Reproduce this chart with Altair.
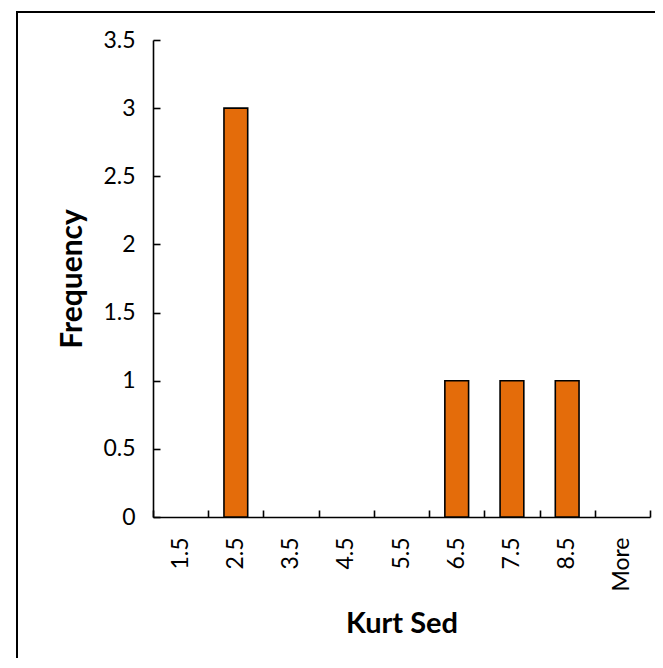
import altair as alt
import pandas as pd

bins = ["1.5", "2.5", "3.5", "4.5", "5.5", "6.5", "7.5", "8.5", "More"]
frequency = [0, 3, 0, 0, 0, 1, 1, 1, 0]
y_ticks = [0, 0.5, 1, 1.5, 2, 2.5, 3, 3.5]

df = pd.DataFrame({"bin": bins, "freq": frequency})

FONT = "Lato"
W, H = 497, 477
PAD_R, PAD_B = 5, 143

x_scale = alt.Scale(domain=bins, paddingInner=0, paddingOuter=0)
y_scale = alt.Scale(domain=[0, 3.5], nice=False)

bars = alt.Chart(df).mark_bar(
    width=alt.RelativeBandSize(0.43),
    color="#E46C0A",
    stroke="#000000",
    strokeWidth=1.6,
).encode(
    x=alt.X("bin:N", sort=bins, scale=x_scale,
            axis=alt.Axis(orient="bottom", title="Kurt Sed", ticks=False, labelAngle=270,
                          labelPadding=20, labelFontSize=23, labelFont=FONT, labelColor="#000000",
                          domainColor="#000000", domainWidth=1.6,
                          titleFont=FONT, titleFontSize=29, titleFontWeight="bold",
                          titleColor="#000000", titleBaseline="alphabetic",
                          titleX=W / 2, titleY=115)),
    y=alt.Y("freq:Q", scale=y_scale,
            axis=alt.Axis(orient="left", title="Frequency", values=y_ticks, format="~g",
                          ticks=False, grid=False, labelPadding=18, labelFontSize=23,
                          labelFont=FONT, labelColor="#000000",
                          domainColor="#000000", domainWidth=1.6,
                          titleFont=FONT, titleFontSize=30, titleFontWeight="bold",
                          titleColor="#000000", titleAngle=270, titleBaseline="alphabetic",
                          titleX=-72, titleY=H / 2)),
).transform_filter(alt.datum.freq > 0)

tick_layer = alt.Chart(df).mark_bar(opacity=0).encode(
    x=alt.X("bin:N", sort=bins, scale=x_scale,
            axis=alt.Axis(orient="bottom", title=None, labels=False, domain=False,
                          ticks=True, tickBand="extent", tickSize=7, offset=-7,
                          tickColor="#000000", tickWidth=1.6)),
    y=alt.Y("freq:Q", scale=y_scale,
            axis=alt.Axis(orient="left", title=None, labels=False, domain=False, grid=False,
                          values=y_ticks, ticks=True, tickSize=7, offset=-7,
                          tickColor="#000000", tickWidth=1.6)),
)

frame_top = alt.Chart(df).mark_rule(stroke="#000000", strokeWidth=1.8).encode(
    x=alt.value(-136), x2=alt.value(W + PAD_R), y=alt.value(-28), y2=alt.value(-28)
).transform_filter(alt.datum.bin == "1.5")

frame_left = alt.Chart(df).mark_rect(fill="#000000", strokeWidth=0).encode(
    x=alt.value(-137), x2=alt.value(-135), y=alt.value(-29), y2=alt.value(H + PAD_B - 2)
).transform_filter(alt.datum.bin == "1.5")

chart = alt.layer(bars, tick_layer, frame_top, frame_left).resolve_axis(
    x="independent", y="independent"
).properties(
    width=W, height=H,
    autosize=alt.AutoSizeParams(type="none"),
    padding={"left": 145, "top": 32, "right": PAD_R, "bottom": PAD_B},
    background="#ffffff",
).configure_view(stroke=None)

chart.save("out.html", embed_options={"renderer": "svg", "actions": False})
